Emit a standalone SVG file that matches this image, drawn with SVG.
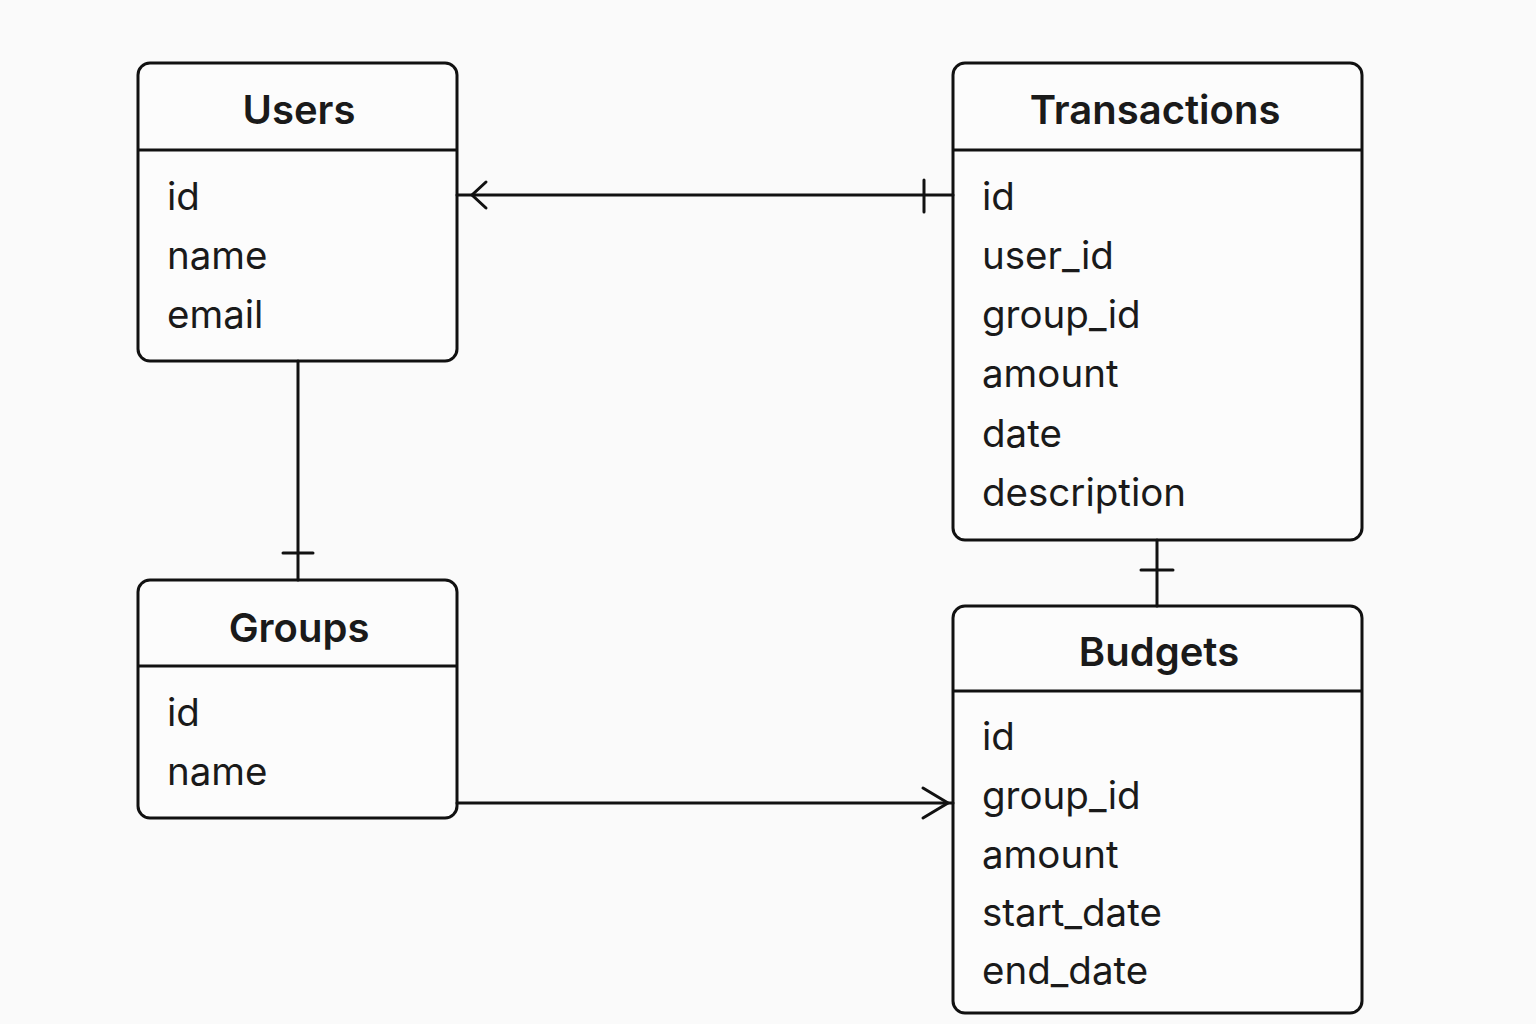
<svg xmlns="http://www.w3.org/2000/svg" width="1536" height="1024" viewBox="0 0 1536 1024">
<style>
.box{fill:#fcfcfc;stroke:#111;stroke-width:3}
.sep{stroke:#111;stroke-width:3}
.title{font-family:Inter,"Liberation Sans",sans-serif;font-weight:600;font-size:40px;fill:#1a1a1a;text-anchor:middle}
.attr{font-family:Inter,"Liberation Sans",sans-serif;font-size:38.5px;fill:#1a1a1a}
.conn{stroke:#111;stroke-width:3;fill:none;stroke-linecap:round}
</style>
<rect width="1536" height="1024" fill="#fafafa"/>
<g id="users">
<rect class="box" x="138" y="63" width="319" height="298" rx="12"/>
<line class="sep" x1="138" y1="150" x2="457" y2="150"/>
<text class="title" x="299" y="124">Users</text>
<text class="attr" x="167" y="210">id</text>
<text class="attr" x="167" y="269">name</text>
<text class="attr" x="167" y="328">email</text>
</g>
<g id="transactions">
<rect class="box" x="953" y="63" width="409" height="477" rx="12"/>
<line class="sep" x1="953" y1="150" x2="1362" y2="150"/>
<text class="title" x="1155" y="124">Transactions</text>
<text class="attr" x="982" y="210">id</text>
<text class="attr" x="982" y="269">user_id</text>
<text class="attr" x="982" y="328">group_id</text>
<text class="attr" x="982" y="387">amount</text>
<text class="attr" x="982" y="447">date</text>
<text class="attr" x="982" y="506">description</text>
</g>
<g id="groups">
<rect class="box" x="138" y="580" width="319" height="238" rx="12"/>
<line class="sep" x1="138" y1="666" x2="457" y2="666"/>
<text class="title" x="299" y="642">Groups</text>
<text class="attr" x="167" y="726">id</text>
<text class="attr" x="167" y="785">name</text>
</g>
<g id="budgets">
<rect class="box" x="953" y="606" width="409" height="407" rx="12"/>
<line class="sep" x1="953" y1="691" x2="1362" y2="691"/>
<text class="title" x="1159" y="666">Budgets</text>
<text class="attr" x="982" y="750">id</text>
<text class="attr" x="982" y="809">group_id</text>
<text class="attr" x="982" y="868">amount</text>
<text class="attr" x="982" y="926">start_date</text>
<text class="attr" x="982" y="984">end_date</text>
</g>
<g id="connectors">
<line class="conn" x1="457" y1="195" x2="953" y2="195"/>
<polyline class="conn" points="486,182 472,195 486,208"/>
<line class="conn" x1="924" y1="180" x2="924" y2="212"/>
<line class="conn" x1="298" y1="361" x2="298" y2="580"/>
<line class="conn" x1="283" y1="553" x2="313" y2="553"/>
<line class="conn" x1="1157" y1="540" x2="1157" y2="606"/>
<line class="conn" x1="1141" y1="570" x2="1173" y2="570"/>
<line class="conn" x1="457" y1="803" x2="953" y2="803"/>
<polyline class="conn" points="923,788 948,803 923,818"/>
</g>
</svg>
